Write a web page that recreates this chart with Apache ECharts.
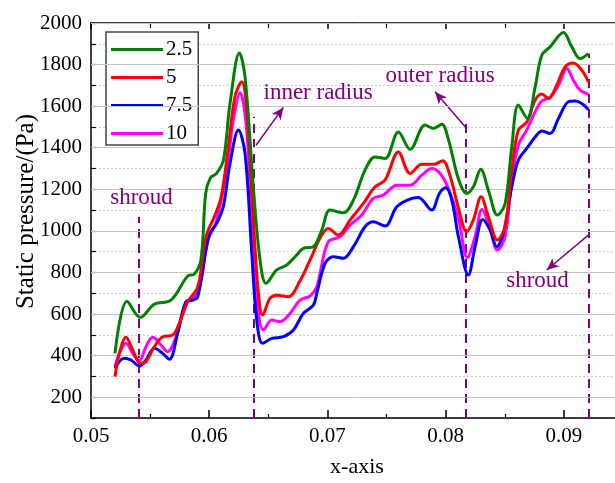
<!DOCTYPE html>
<html>
<head>
<meta charset="utf-8">
<script src="https://cdn.jsdelivr.net/npm/echarts@6/dist/echarts.min.js"></script>
<style>
  html, body { margin: 0; padding: 0; background: #fff; }
  #chart { width: 615px; height: 483px; }
</style>
</head>
<body>
<div id="chart"></div>
<script>
// 数据
const seriesNames = ['2.5', '5', '7.5', '10']
const seriesColors = ['#008000', '#ff0000', '#0000ff', '#ff00ff']

const xGreen = [0.05203, 0.05305, 0.05417, 0.05536, 0.05677, 0.05818, 0.05874, 0.0593, 0.0597, 0.0601, 0.0606, 0.0612, 0.06176, 0.06255, 0.06303, 0.06373, 0.0643, 0.06481, 0.06571, 0.06656, 0.0674, 0.06796, 0.06881, 0.06952, 0.07022, 0.07135, 0.0722, 0.07318, 0.07403, 0.07487, 0.076, 0.07699, 0.07826, 0.07896, 0.07967, 0.08023, 0.08108, 0.08178, 0.08234, 0.08297, 0.08361, 0.08438, 0.08503, 0.08559, 0.08615, 0.08691, 0.08757, 0.08813, 0.08883, 0.08996, 0.09067, 0.09137, 0.09207]
const yGreen = [411, 662, 584, 647, 667, 783, 792, 860, 1180, 1255, 1275, 1340, 1613, 1856, 1741, 1212, 860, 748, 812, 836, 884, 916, 924, 1004, 1100, 1087, 1148, 1292, 1356, 1348, 1476, 1392, 1509, 1493, 1513, 1440, 1250, 1180, 1212, 1296, 1196, 1076, 1132, 1404, 1605, 1541, 1693, 1845, 1885, 1954, 1885, 1829, 1853]

const xRed = [0.05203, 0.0524, 0.05296, 0.05353, 0.05417, 0.05465, 0.05536, 0.05606, 0.05691, 0.05747, 0.05818, 0.05903, 0.05973, 0.06043, 0.061, 0.06162, 0.06218, 0.06275, 0.06317, 0.06373, 0.06416, 0.06452, 0.06514, 0.06571, 0.06669, 0.06768, 0.06853, 0.06937, 0.07008, 0.07092, 0.07191, 0.07304, 0.07403, 0.07487, 0.076, 0.07699, 0.07798, 0.07896, 0.07975, 0.08037, 0.08108, 0.08178, 0.08234, 0.083, 0.08361, 0.08438, 0.08503, 0.08559, 0.08615, 0.08686, 0.08757, 0.08813, 0.08869, 0.0894, 0.0901, 0.0908, 0.09151, 0.09207]
const yRed = [299, 411, 488, 427, 363, 371, 443, 491, 499, 555, 659, 731, 972, 1068, 1160, 1404, 1645, 1717, 1581, 1052, 700, 595, 675, 691, 683, 760, 860, 965, 1012, 980, 1052, 1132, 1212, 1244, 1380, 1276, 1320, 1320, 1337, 1265, 1110, 996, 1052, 1164, 1068, 956, 1020, 1292, 1485, 1524, 1629, 1658, 1637, 1701, 1789, 1808, 1773, 1717]

const xBlue = [0.05203, 0.05282, 0.05338, 0.05409, 0.05465, 0.05536, 0.05606, 0.05663, 0.05733, 0.05804, 0.0586, 0.05903, 0.05973, 0.06007, 0.06063, 0.06119, 0.06176, 0.06247, 0.06303, 0.0636, 0.06402, 0.06452, 0.06529, 0.06627, 0.06712, 0.06796, 0.06881, 0.0691, 0.0698, 0.0705, 0.07135, 0.0722, 0.07318, 0.07388, 0.07487, 0.07586, 0.07685, 0.07769, 0.07882, 0.07947, 0.08001, 0.08052, 0.08108, 0.08192, 0.08249, 0.08314, 0.08376, 0.08432, 0.08488, 0.08559, 0.08615, 0.08686, 0.08757, 0.08813, 0.08883, 0.08954, 0.09038, 0.09095, 0.09151, 0.09207]
const yBlue = [339, 387, 379, 350, 379, 435, 411, 382, 507, 659, 667, 683, 908, 988, 1036, 1116, 1324, 1485, 1373, 892, 571, 459, 483, 491, 523, 603, 643, 700, 844, 876, 868, 924, 1020, 1044, 1023, 1116, 1151, 1161, 1100, 1180, 1207, 1148, 972, 788, 924, 1055, 1004, 924, 988, 1212, 1340, 1397, 1452, 1481, 1469, 1541, 1621, 1625, 1613, 1584]

const xMagenta = [0.05203, 0.0524, 0.05296, 0.05353, 0.05409, 0.05465, 0.05522, 0.05592, 0.05649, 0.05719, 0.05804, 0.05874, 0.0593, 0.05987, 0.06058, 0.06148, 0.06204, 0.06261, 0.06317, 0.06373, 0.06416, 0.06458, 0.06529, 0.06599, 0.06684, 0.06768, 0.06853, 0.0691, 0.06937, 0.07008, 0.07107, 0.07191, 0.0729, 0.07388, 0.07473, 0.07586, 0.07699, 0.07798, 0.07882, 0.07953, 0.08023, 0.08108, 0.08184, 0.08249, 0.08308, 0.0837, 0.08438, 0.08503, 0.08559, 0.08615, 0.08686, 0.08757, 0.08813, 0.08883, 0.08954, 0.09025, 0.0908, 0.09137, 0.09207]
const yMagenta = [347, 411, 459, 411, 375, 443, 488, 451, 419, 491, 659, 683, 763, 956, 1040, 1292, 1533, 1664, 1485, 892, 603, 523, 571, 563, 603, 667, 687, 731, 796, 948, 972, 1028, 1076, 1156, 1172, 1220, 1220, 1268, 1300, 1276, 1204, 1060, 872, 972, 1103, 1020, 908, 972, 1244, 1413, 1485, 1573, 1625, 1642, 1701, 1781, 1725, 1677, 1658]

// 标注：虚线位置、箭头、文字
const guideX = [0.054, 0.0638, 0.0817, 0.0921]
const guideTop = [1068, 1549, 1541, 1853]
const arrows = [
  [[0.06396, 1412], [0.06627, 1594]],
  [[0.08178, 1493], [0.0791, 1669]],
  [[0.09207, 980], [0.08855, 812]]
]
const notes = [
  { text: 'shroud', at: [0.05427, 1160] },
  { text: 'inner radius', at: [0.06921, 1662] },
  { text: 'outer radius', at: [0.07953, 1747] },
  { text: 'shroud', at: [0.08777, 759] }
]

const FONT = 'Liberation Serif'
const PURPLE = '#800080'

const xs = [xGreen, xRed, xBlue, xMagenta]
const ys = [yGreen, yRed, yBlue, yMagenta]

function zip(a, b) {
  return a.map((v, i) => [v, b[i]])
}

const chart = echarts.init(document.getElementById('chart'))

const series = seriesNames.map((name, i) => ({
  name: name,
  type: 'line',
  data: zip(xs[i], ys[i]),
  smooth: 0.35,
  symbol: 'none',
  lineStyle: { color: seriesColors[i], width: 3 },
  itemStyle: { color: seriesColors[i] },
  z: 10 - i
}))

// 偶数百的实线网格
const solidGrid = []
for (let v = 200; v <= 2000; v += 200) solidGrid.push(v)

series.push({
  name: 'annot',
  type: 'line',
  data: [],
  silent: true,
  z: 20,
  markLine: {
    silent: true,
    animation: false,
    label: { show: false },
    data: [
      ...guideX.map((x, i) => [
        { coord: [x, 100], symbol: 'none', lineStyle: { color: PURPLE, type: [9, 6], width: 2 } },
        { coord: [x, guideTop[i]], symbol: 'none' }
      ]),
      ...arrows.map(a => [
        { coord: a[0], symbol: 'none', lineStyle: { color: PURPLE, type: 'solid', width: 1.5 } },
        { coord: a[1], symbol: 'arrow', symbolSize: [8, 12] }
      ])
    ]
  },
  markPoint: {
    silent: true,
    animation: false,
    symbol: 'circle',
    symbolSize: 1,
    itemStyle: { color: 'rgba(0,0,0,0)' },
    label: {
      show: true,
      position: 'inside',
      color: PURPLE,
      fontFamily: FONT,
      fontSize: 23
    },
    data: notes.map(n => ({ coord: n.at, value: n.text, label: { formatter: n.text } }))
  }
})

series.push({
  name: 'grid',
  type: 'line',
  data: [],
  silent: true,
  z: 1,
  markLine: {
    silent: true,
    animation: false,
    symbol: 'none',
    label: { show: false },
    lineStyle: { color: '#c4c4c4', type: 'solid', width: 1 },
    data: solidGrid.map(v => ({ yAxis: v }))
  }
})

const option = {
  animation: false,
  backgroundColor: '#fff',
  grid: { left: 91, right: -8, top: 23, bottom: 65, outerBoundsMode: 'none', containLabel: false },
  legend: {
    data: seriesNames,
    orient: 'vertical',
    left: 106,
    top: 32,
    icon: 'rect',
    itemWidth: 52,
    itemHeight: 3,
    itemGap: 7,
    padding: [7, 6, 1, 5],
    borderColor: '#444',
    borderWidth: 1.5,
    backgroundColor: '#fff',
    textStyle: { fontFamily: FONT, fontSize: 21, color: '#000', padding: [0, 0, 0, -2] }
  },
  xAxis: [
    {
      type: 'value',
      min: 0.05,
      max: 0.095,
      interval: 0.01,
      name: 'x-axis',
      nameLocation: 'middle',
      nameGap: 38,
      nameTextStyle: { fontFamily: FONT, fontSize: 22, color: '#000' },
      axisLine: { show: true, onZero: false, lineStyle: { color: '#000', width: 1.5 } },
      axisTick: { show: true, inside: true, length: 8, lineStyle: { color: '#000', width: 1.5 } },
      minorTick: { show: true, splitNumber: 2, length: 4, lineStyle: { color: '#000', width: 1.2 } },
      splitLine: { show: false },
      axisLabel: {
        fontFamily: FONT,
        fontSize: 21,
        color: '#000',
        margin: 8,
        showMaxLabel: false,
        formatter: v => v.toFixed(2)
      }
    },
    {
      type: 'value',
      position: 'top',
      min: 0.05,
      max: 0.095,
      interval: 0.01,
      axisLine: { show: true, onZero: false, lineStyle: { color: '#000', width: 1.5 } },
      axisTick: { show: true, inside: true, length: 6, lineStyle: { color: '#000', width: 1.5 } },
      minorTick: { show: true, splitNumber: 2, length: 5, lineStyle: { color: '#000', width: 1.2 } },
      splitLine: { show: false },
      axisLabel: { show: false }
    }
  ],
  yAxis: {
    type: 'value',
    min: 100,
    max: 2000,
    interval: 100,
    name: 'Static pressure/(Pa)',
    nameLocation: 'middle',
    nameGap: 52,
    nameMoveOverlap: false,
    nameTextStyle: { fontFamily: FONT, fontSize: 25, color: '#000', padding: [0, 0, 0, 18] },
    axisLine: { show: true, onZero: false, lineStyle: { color: '#000', width: 1.5 } },
    axisTick: { show: true, inside: true, length: 5, lineStyle: { color: '#000', width: 1.2 } },
    splitLine: { show: true, lineStyle: { color: '#cfcfcf', type: [2, 2], width: 1 } },
    axisLabel: {
      fontFamily: FONT,
      fontSize: 21,
      color: '#000',
      margin: 9,
      formatter: v => (v % 200 === 0 ? String(v) : '')
    }
  },
  series: series
}

chart.setOption(option)
</script>
</body>
</html>
